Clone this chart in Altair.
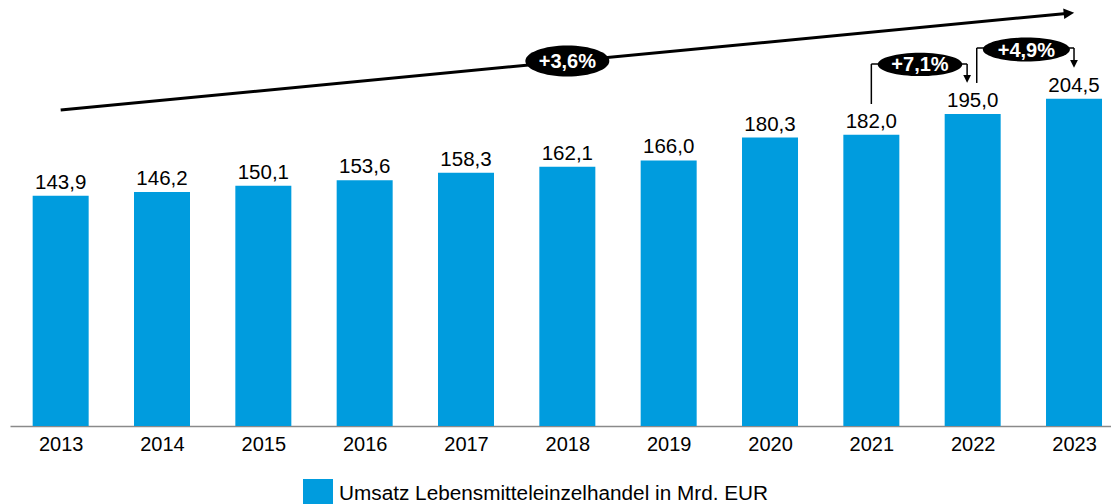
import altair as alt
import pandas as pd

# ---- data ----
years = [2013, 2014, 2015, 2016, 2017, 2018, 2019, 2020, 2021, 2022, 2023]
values = [143.9, 146.2, 150.1, 153.6, 158.3, 162.1, 166.0, 180.3, 182.0, 195.0, 204.5]
series_name = "Umsatz Lebensmitteleinzelhandel in Mrd. EUR"

# annotation badges: label, position (year axis), position (value axis)
badge_labels = ["+3,6%", "+7,1%", "+4,9%"]
badge_x = [2018.0, 2021.48, 2022.53]
badge_y = [228.1, 226.0, 235.3]

# connector segments (year axis / value axis units)
seg_x = [2013.0, 2021.0, 2021.0, 2021.945, 2022.04, 2022.04, 2023.0]
seg_x2 = [2022.95, 2021.0, 2021.945, 2021.945, 2022.04, 2023.0, 2023.0]
seg_y = [197.5, 201.25, 226.25, 226.25, 214.4, 236.25, 236.25]
seg_y2 = [258.0, 226.25, 226.25, 216.9, 236.25, 236.25, 226.3]
seg_w = [3.0, 1.5, 1.5, 1.5, 1.5, 1.5, 1.5]

# arrow heads
head_x = [2022.95, 2021.945, 2023.0]
head_y = [258.0, 216.9, 226.3]
head_angle = [354.5, 90, 90]
head_size = [110, 60, 60]

BLUE = "#009CDE"
FONT = "Liberation Sans"

bars_df = pd.DataFrame({
    "year": years,
    "value": values,
    "label": [f"{v:.1f}".replace(".", ",") for v in values],
    "series": [series_name] * len(years),
})
badge_df = pd.DataFrame({
    "x": badge_x, "y": badge_y, "label": badge_labels,
    "shape": [
        "M -1 0 C -1 -0.204 -0.552 -0.369 0 -0.369 C 0.552 -0.369 1 -0.204 1 0 C 1 0.204 0.552 0.369 0 0.369 C -0.552 0.369 -1 0.204 -1 0 Z",
        "M -1 0 C -1 -0.152 -0.552 -0.275 0 -0.275 C 0.552 -0.275 1 -0.152 1 0 C 1 0.152 0.552 0.275 0 0.275 C -0.552 0.275 -1 0.152 -1 0 Z",
        "M -1 0 C -1 -0.152 -0.552 -0.275 0 -0.275 C 0.552 -0.275 1 -0.152 1 0 C 1 0.152 0.552 0.275 0 0.275 C -0.552 0.275 -1 0.152 -1 0 Z",
    ],
    "size": [7056, 7140, 7570],
})
seg_df = pd.DataFrame({"x": seg_x, "x2": seg_x2, "y": seg_y, "y2": seg_y2, "w": seg_w})
head_df = pd.DataFrame({"x": head_x, "y": head_y, "angle": head_angle, "size": head_size})

x_scale = alt.Scale(domain=[2012.5, 2023.365], nice=False, zero=False, padding=0)
y_scale = alt.Scale(domain=[0, 260], nice=False, zero=True, padding=0)


def x_axis():
    return alt.Axis(values=years, format="d", title=None, grid=False, ticks=False)


bars = alt.Chart(bars_df).mark_bar(width=56).encode(
    x=alt.X("year:Q", scale=x_scale, axis=x_axis()),
    y=alt.Y("value:Q", scale=y_scale, axis=None),
    color=alt.Color(
        "series:N",
        scale=alt.Scale(range=[BLUE]),
        legend=alt.Legend(
            orient="none", legendX=293, legendY=469, title=None,
            symbolType="square", symbolSize=900, symbolStrokeWidth=0,
            labelFontSize=20.75, labelFont=FONT, labelColor="#000000",
            labelOffset=6, labelLimit=0, padding=0,
        ),
    ),
)

value_labels = alt.Chart(bars_df).mark_text(
    dy=-7, baseline="alphabetic", align="center", fontSize=20.5, font=FONT, color="#000000"
).encode(
    x=alt.X("year:Q", scale=x_scale, axis=x_axis()),
    y=alt.Y("value:Q", scale=y_scale, axis=None),
    text="label:N",
)

segments = alt.Chart(seg_df).mark_rule(color="#000000").encode(
    x=alt.X("x:Q", scale=x_scale, axis=x_axis()),
    x2="x2:Q",
    y=alt.Y("y:Q", scale=y_scale, axis=None),
    y2="y2:Q",
    strokeWidth=alt.StrokeWidth("w:Q", scale=None),
)

heads = alt.Chart(head_df).mark_point(
    shape="M -1 -1 L 1 0 L -1 1 Z", filled=True, color="#000000", opacity=1, strokeWidth=0
).encode(
    x=alt.X("x:Q", scale=x_scale, axis=x_axis()),
    y=alt.Y("y:Q", scale=y_scale, axis=None),
    angle=alt.Angle("angle:Q", scale=None),
    size=alt.Size("size:Q", scale=None),
)

badges = alt.Chart(badge_df).mark_point(
    filled=True, color="#000000", opacity=1, strokeWidth=0
).encode(
    x=alt.X("x:Q", scale=x_scale, axis=x_axis()),
    y=alt.Y("y:Q", scale=y_scale, axis=None),
    shape=alt.Shape("shape:N", scale=None),
    size=alt.Size("size:Q", scale=None),
)

badge_text = alt.Chart(badge_df).mark_text(
    fontSize=20, fontWeight="bold", font=FONT, color="#ffffff", align="center", baseline="middle", dy=1
).encode(
    x=alt.X("x:Q", scale=x_scale, axis=x_axis()),
    y=alt.Y("y:Q", scale=y_scale, axis=None),
    text="label:N",
)

chart = alt.layer(bars, value_labels, segments, heads, badges, badge_text).properties(
    width=1101, height=416,
    padding={"left": 2, "top": 2, "right": 0, "bottom": 78},
    autosize=alt.AutoSizeParams(type="none"),
    background="#ffffff",
).configure_view(stroke=None).configure_axisX(
    labelFontSize=20, labelFont=FONT, labelColor="#000000", labelPadding=8.5,
    tickSize=0, domainColor="#8a8a8a", domainWidth=1.5,
    labelFlush=False, labelOverlap=False,
)

chart.save("out.html", embed_options={"renderer": "svg", "actions": False})
